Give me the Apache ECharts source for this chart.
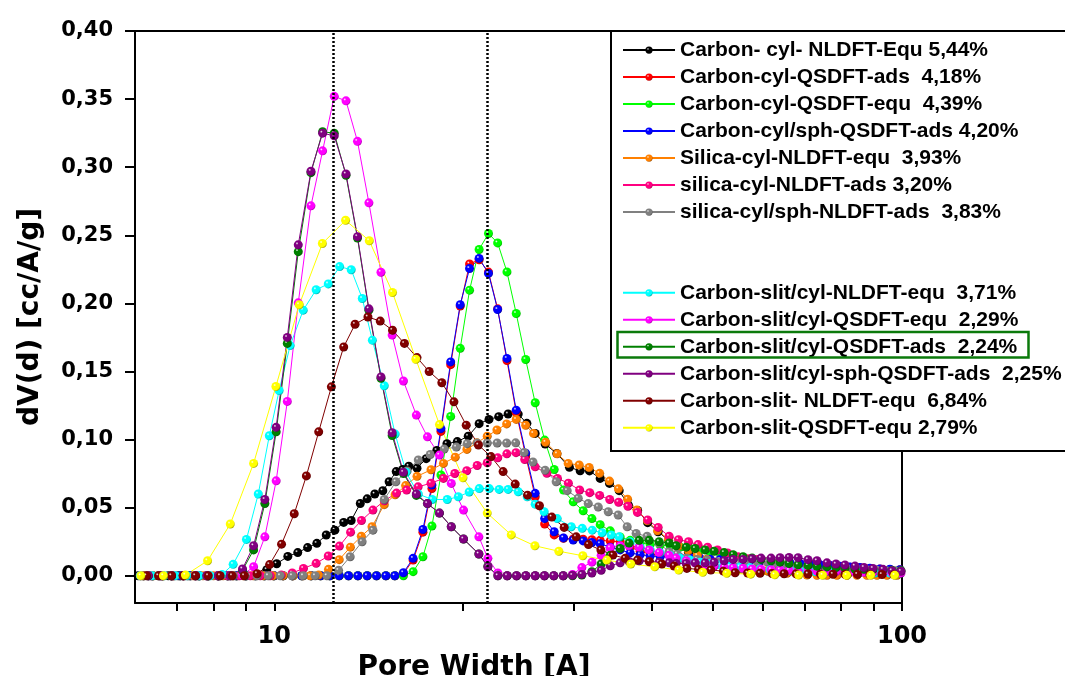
<!DOCTYPE html>
<html>
<head>
<meta charset="utf-8">
<script src="https://cdn.jsdelivr.net/npm/echarts@6/dist/echarts.min.js"></script>
<style>
  html, body { margin: 0; padding: 0; background: #ffffff; }
  #chart { width: 1065px; height: 676px; }
</style>
</head>
<body>
<div id="chart"></div>
<script>
// ---- Pore size distributions: pore width (Å) vs dV(d) (cc/Å/g) ----

// Shared pore-width grid of the carbon cylindrical QSDFT kernels
const cylQsdftWidths = [6.19, 6.40, 6.63, 6.86, 7.08, 7.35, 7.60, 7.85, 8.14, 8.42, 8.70, 9.01, 9.33, 9.65, 9.99, 10.33, 10.69, 11.06, 11.45, 11.85, 12.26, 12.69, 13.13, 13.59, 14.06, 14.55, 15.06, 15.56,
  16.06, 16.64, 17.25, 17.83, 18.43, 19.10, 19.78, 20.47, 21.20, 21.94, 22.69, 23.48, 24.29, 25.15, 26.04, 26.96, 27.92, 28.89, 29.94, 31.05, 32.06, 33.05,
  34.29, 35.56, 36.89, 38.27, 39.70, 41.18, 42.72, 44.32, 45.97, 47.69, 49.47, 51.31, 53.23, 55.21, 57.28, 59.41, 61.63, 63.93, 66.32, 68.79, 71.36, 74.02, 76.79, 79.65, 82.63, 85.71, 88.91, 92.23, 95.67, 99.25];

const carbonCylSphQsdftAds = [0, 0, 0, 0, 0, 0, 0, 0, 0, 0, 0, 0, 0, 0, 0, 0, 0, 0, 0, 0, 0, 0, 0, 0, 0, 0, 0, 0,
  0.0022, 0.0128, 0.034, 0.0666, 0.108, 0.157, 0.199, 0.2256, 0.233, 0.222, 0.1955, 0.1596, 0.1216, 0.09, 0.0605, 0.042, 0.0323, 0.0278, 0.0263, 0.0256, 0.0244, 0.0235,
  0.021, 0.019, 0.0168, 0.0155, 0.0145, 0.014, 0.0135, 0.013, 0.013, 0.0125, 0.0122, 0.012, 0.0117, 0.0115, 0.0112, 0.011, 0.0105, 0.01, 0.0095, 0.009, 0.0085, 0.008, 0.0075, 0.007, 0.0065, 0.006, 0.0055, 0.005, 0.0048, 0.0045];

const carbonCylQsdftAds = [0, 0, 0, 0, 0, 0, 0, 0, 0, 0, 0, 0, 0, 0, 0, 0, 0, 0, 0, 0, 0, 0, 0, 0, 0, 0, 0, 0,
  0.0015, 0.0115, 0.032, 0.064, 0.106, 0.155, 0.198, 0.229, 0.232, 0.223, 0.196, 0.158, 0.12, 0.088, 0.058, 0.038, 0.03, 0.0275, 0.027, 0.0268, 0.0265, 0.026,
  0.0255, 0.025, 0.021, 0.018, 0.016, 0.0148, 0.014, 0.0135, 0.013, 0.0125, 0.012, 0.0117, 0.0115, 0.0112, 0.011, 0.0107, 0.0103, 0.0098, 0.0093, 0.0088, 0.0083, 0.0078, 0.0073, 0.0068, 0.0063, 0.0058, 0.0053, 0.0049, 0.0046, 0.0044];

const carbonCylQsdftEqu = [0, 0, 0, 0, 0, 0, 0, 0, 0, 0, 0, 0, 0, 0, 0, 0, 0, 0, 0, 0, 0, 0, 0, 0, 0, 0, 0, 0,
  0, 0.003, 0.014, 0.0365, 0.074, 0.117, 0.167, 0.2097, 0.2396, 0.2513, 0.2444, 0.2231, 0.1926, 0.1588, 0.127, 0.0996, 0.078, 0.0629, 0.0543, 0.0477, 0.042, 0.0375,
  0.033, 0.0285, 0.026, 0.0243, 0.023, 0.0225, 0.022, 0.021, 0.02, 0.019, 0.018, 0.0165, 0.015, 0.0135, 0.0122, 0.011, 0.0095, 0.0085, 0.0075, 0.007, 0.0065, 0.006, 0.0055, 0.005, 0.005, 0.0045, 0.0045, 0.004, 0.004, 0.0035];

// Shared pore-width grid of the carbon slit/cylinder QSDFT kernels
const slitCylQsdftWidths = [6.30, 6.58, 6.86, 7.16, 7.49, 7.81, 8.15, 8.51, 8.90, 9.27, 9.66, 10.07, 10.49, 10.92, 11.44, 11.94, 12.46, 13.01, 13.57, 14.15,
  14.79, 15.41, 16.06, 16.84, 17.54, 18.33, 19.14, 20.02, 21.18, 21.89, 22.71, 23.50, 24.32, 25.16, 26.04, 26.94, 27.88, 28.86, 29.86, 30.90,
  32.06, 33.17, 34.29, 35.56, 36.75, 38.13, 39.56, 41.03, 42.56, 43.67, 45.31, 46.82, 48.57, 50.20, 52.07, 53.82, 55.82, 57.70, 59.63, 61.86,
  63.93, 66.08, 68.30, 70.84, 73.21, 75.94, 78.50, 81.12, 84.16, 86.98, 89.90, 93.25, 96.38, 99.62];

const slitCylQsdftEqu = [0, 0, 0, 0, 0, 0, 0, 0, 0.0005, 0.0066, 0.0286, 0.0697, 0.128, 0.2004, 0.2716, 0.312, 0.352, 0.3487, 0.319, 0.2738,
  0.2229, 0.1767, 0.143, 0.118, 0.102, 0.0886, 0.0678, 0.0482, 0.0286, 0.0128, 0.002, 0, 0, 0, 0, 0, 0, 0, 0.001, 0.006,
  0.01, 0.015, 0.0205, 0.022, 0.022, 0.021, 0.019, 0.017, 0.015, 0.013, 0.011, 0.0095, 0.008, 0.0072, 0.0065, 0.006, 0.0055, 0.005, 0.0048, 0.0045,
  0.0043, 0.004, 0.0038, 0.0036, 0.0034, 0.0032, 0.003, 0.0029, 0.0027, 0.0025, 0.0024, 0.0022, 0.0021, 0.002];

const slitCylQsdftAds = [0, 0, 0, 0, 0, 0, 0, 0, 0.004, 0.019, 0.053, 0.1057, 0.1706, 0.238, 0.296, 0.326, 0.325, 0.294, 0.248, 0.195,
  0.145, 0.103, 0.075, 0.059, 0.053, 0.046, 0.036, 0.027, 0.016, 0.007, 0, 0, 0, 0, 0, 0, 0, 0, 0, 0.0005,
  0.003, 0.0086, 0.015, 0.02, 0.024, 0.026, 0.026, 0.025, 0.024, 0.022, 0.021, 0.02, 0.019, 0.018, 0.017, 0.0155, 0.014, 0.013, 0.012, 0.011,
  0.01, 0.009, 0.008, 0.0075, 0.007, 0.0065, 0.006, 0.0055, 0.005, 0.0048, 0.0045, 0.0042, 0.004, 0.0038];

const slitCylSphQsdftAds = [0, 0, 0, 0, 0, 0, 0, 0, 0.005, 0.022, 0.056, 0.109, 0.175, 0.243, 0.297, 0.325, 0.323, 0.295, 0.249, 0.196,
  0.146, 0.105, 0.076, 0.06, 0.053, 0.046, 0.036, 0.027, 0.016, 0.0066, 0, 0, 0, 0, 0, 0, 0, 0, 0.0003, 0.001,
  0.002, 0.004, 0.0073, 0.0095, 0.0105, 0.011, 0.0105, 0.01, 0.0095, 0.009, 0.009, 0.0095, 0.0095, 0.01, 0.011, 0.012, 0.012, 0.0125, 0.013, 0.013,
  0.0133, 0.0135, 0.0133, 0.0118, 0.011, 0.0095, 0.0086, 0.0079, 0.0071, 0.0061, 0.0054, 0.0047, 0.0037, 0.0033];

// Carbon cylindrical NLDFT (equilibrium)
const carbonCylNldftWidths = [6.07, 6.30, 6.54, 6.78, 7.03, 7.29, 7.57, 7.85, 8.14, 8.44, 8.73, 9.03, 9.36, 9.73, 10.09, 10.51, 10.90, 11.30, 11.69, 12.10,
  12.49, 12.90, 13.26, 13.71, 14.06, 14.46, 14.89, 15.24, 15.64, 16.02, 16.38, 16.88, 17.46, 18.15, 18.84, 19.57, 20.37, 21.20, 21.98, 22.78,
  23.58, 24.47, 25.26, 26.04, 27.01, 28.19, 29.53, 30.71, 31.78, 33.05, 34.20, 35.44, 36.66, 37.92, 39.34, 40.88, 42.49, 44.08, 45.69, 47.34,
  49.11, 50.93, 52.84, 54.80, 56.86, 58.97, 61.18, 63.46, 65.83, 68.30, 70.84, 73.48, 76.23, 79.07, 82.02, 85.08, 88.26, 91.55, 94.97, 98.52];
const carbonCylNldftEqu = [0, 0, 0, 0, 0, 0, 0, 0, 0, 0, 0, 0, 0.001, 0.0045, 0.0088, 0.0142, 0.017, 0.0207, 0.0238, 0.0299,
  0.0335, 0.0392, 0.0406, 0.0531, 0.0565, 0.06, 0.0624, 0.069, 0.0765, 0.078, 0.0805, 0.079, 0.086, 0.092, 0.097, 0.0985, 0.1025, 0.1117, 0.1148, 0.1168,
  0.1188, 0.1187, 0.1119, 0.1045, 0.0967, 0.0898, 0.0796, 0.0771, 0.077, 0.0715, 0.0678, 0.0625, 0.0519, 0.048, 0.039, 0.0323, 0.026, 0.0215, 0.0173, 0.0152,
  0.0125, 0.0097, 0.0072, 0.0054, 0.0045, 0.004, 0.0035, 0.003, 0.0027, 0.0025, 0.0022, 0.002, 0.0018, 0.0017, 0.0015, 0.0014, 0.0013, 0.0012, 0.0011, 0.001];

// Silica cylindrical NLDFT (equilibrium)
const silicaCylEquWidths = [6.19, 6.42, 6.65, 6.91, 7.16, 7.43, 7.70, 8.00, 8.29, 8.60, 8.93, 9.26, 9.61, 9.96, 10.33, 10.72, 11.12, 11.41,
  11.77, 12.20, 12.69, 13.22, 13.76, 14.31, 14.97, 15.58, 16.19, 16.88, 17.77, 18.60, 19.42, 20.27, 21.03, 21.84, 22.63, 23.45, 24.29, 25.15,
  25.88, 27.06, 28.23, 29.39, 30.60, 31.74, 32.99, 34.20, 35.34, 36.55, 37.82, 39.31, 40.80, 42.46, 44.05, 45.69, 47.22, 48.87, 50.69, 52.65,
  54.60, 56.65, 58.76, 60.95, 63.23, 65.59, 68.03, 70.58, 73.21, 75.94, 78.78, 81.72, 84.77, 87.93, 91.22, 94.62, 98.16];
const silicaCylNldftEqu = [0, 0, 0, 0, 0, 0, 0, 0, 0, 0, 0, 0, 0, 0, 0, 0, 0, 0,
  0.0005, 0.0047, 0.0118, 0.021, 0.029, 0.036, 0.0522, 0.0595, 0.0662, 0.073, 0.0778, 0.0825, 0.0871, 0.0928, 0.0976, 0.1025, 0.107, 0.1115, 0.1148, 0.1105,
  0.1045, 0.098, 0.0895, 0.0825, 0.0813, 0.0795, 0.0752, 0.0695, 0.0638, 0.0562, 0.0482, 0.0404, 0.033, 0.0268, 0.0218, 0.0185, 0.0148, 0.012, 0.0085, 0.0062,
  0.005, 0.0045, 0.0042, 0.0037, 0.0026, 0.0018, 0.0012, 0.0006, 0.0004, 0.0003, 0.0003, 0.0003, 0.0003, 0.0003, 0.0003, 0.0003, 0.0003];

// Silica cylindrical NLDFT (adsorption)
const silicaCylAdsWidths = [6.12, 6.37, 6.63, 6.91, 7.18, 7.49, 7.79, 8.12, 8.44, 8.80, 9.16, 9.50, 9.85,
  10.26, 10.68, 11.13, 11.66, 12.19, 12.70, 13.23, 13.77, 14.36, 14.97, 15.66, 16.25, 16.95, 17.77, 18.60, 19.39, 20.26, 21.05, 21.84, 22.70,
  23.47, 24.27, 25.06, 26.04, 27.18, 28.26, 29.41, 30.65, 31.81, 32.99, 34.23, 35.36, 36.59, 37.89, 39.34, 40.88, 42.56, 44.05, 45.69, 47.31,
  49.02, 50.84, 52.74, 54.80, 56.86, 58.83, 60.95, 63.23, 65.59, 68.03, 70.58, 73.21, 75.94, 78.78, 81.72, 84.77, 87.93, 91.22, 94.62, 98.16];
const silicaCylNldftAds = [0, 0, 0, 0, 0, 0, 0, 0, 0, 0, 0, 0, 0,
  0.0005, 0.002, 0.0054, 0.0091, 0.0145, 0.0218, 0.032, 0.0406, 0.0482, 0.055, 0.0607, 0.0629, 0.0653, 0.068, 0.0715, 0.0751, 0.0771, 0.081, 0.083, 0.0866,
  0.0895, 0.0904, 0.0854, 0.08, 0.0752, 0.0715, 0.068, 0.063, 0.061, 0.059, 0.056, 0.054, 0.051, 0.0465, 0.041, 0.0355, 0.029, 0.0265, 0.025, 0.0229,
  0.021, 0.0189, 0.0167, 0.014, 0.0125, 0.012, 0.0105, 0.009, 0.008, 0.007, 0.006, 0.005, 0.0045, 0.004, 0.0035, 0.003, 0.003, 0.0025, 0.0025, 0.002];

// Silica cylindrical/spherical NLDFT (adsorption)
const silicaCylSphWidths = [6.35, 6.63, 6.91, 7.21, 7.54, 7.86, 8.20, 8.61, 8.99, 9.39, 9.78, 10.22, 10.68, 11.12, 11.62, 12.13,
  12.66, 13.21, 13.80, 14.36, 14.97, 15.62, 16.28, 16.96, 17.72, 18.65, 19.50, 20.29, 21.05, 21.84, 22.65, 23.45, 24.24, 25.01, 25.83, 27.01,
  28.12, 29.28, 30.49, 31.63, 32.81, 34.04, 35.30, 36.49, 37.71, 39.26, 41.03, 42.56, 43.83, 45.47, 47.17, 48.93, 50.75, 52.65, 54.80, 56.65,
  58.76, 60.95, 63.23, 65.59, 68.03, 70.58, 73.21, 75.94, 78.50, 81.43, 84.46, 87.61, 90.89, 94.28, 97.44];
const silicaCylSphNldftAds = [0, 0, 0, 0, 0, 0, 0, 0, 0, 0, 0, 0, 0, 0, 0, 0,
  0.004, 0.014, 0.025, 0.0335, 0.056, 0.069, 0.077, 0.085, 0.089, 0.093, 0.0945, 0.097, 0.0975, 0.0975, 0.0975, 0.0975, 0.0976, 0.0905, 0.0835, 0.0775,
  0.069, 0.0625, 0.057, 0.053, 0.0505, 0.047, 0.0446, 0.036, 0.031, 0.029, 0.0238, 0.0176, 0.016, 0.0128, 0.012, 0.0115, 0.0103, 0.0095, 0.0091, 0.0092,
  0.0103, 0.0103, 0.009, 0.008, 0.0066, 0.006, 0.006, 0.0054, 0.0054, 0.0052, 0.0047, 0.0046, 0.0042, 0.0037, 0.0037];

// Carbon slit/cylinder NLDFT (equilibrium)
const slitCylNldftWidths = [6.12, 6.40, 6.68, 6.96, 7.26, 7.60, 7.91, 8.26, 8.60, 9.03, 9.43, 9.82, 10.18, 10.60, 11.12, 11.66, 12.19, 12.71, 13.26, 13.81,
  14.33, 14.97, 15.58, 16.22, 16.96, 17.85, 18.86, 19.64, 20.44, 21.21, 22.00, 22.82, 23.58, 24.47, 25.29, 26.04, 26.91, 28.23, 29.72, 30.94,
  32.10, 33.29, 34.42, 35.44, 36.89, 38.27, 39.70, 41.18, 42.72, 44.32, 45.97, 47.69, 49.47, 51.31, 53.23, 55.21, 57.28, 59.41, 61.63, 63.93,
  66.32, 68.79, 72.68, 76.79, 81.12, 85.71, 90.56, 95.67, 99.25];
const slitCylNldftEqu = [0, 0, 0, 0, 0, 0, 0, 0.001, 0.0084, 0.0267, 0.06, 0.1028, 0.136, 0.169, 0.195, 0.21, 0.2143, 0.227, 0.2247, 0.2036,
  0.173, 0.1395, 0.104, 0.076, 0.06, 0.056, 0.056, 0.058, 0.0615, 0.064, 0.064, 0.0634, 0.0634, 0.0617, 0.058, 0.0526, 0.047, 0.042, 0.036, 0.0348,
  0.0335, 0.0316, 0.0299, 0.0286, 0.025, 0.021, 0.019, 0.017, 0.015, 0.013, 0.0115, 0.01, 0.009, 0.008, 0.007, 0.0065, 0.006, 0.005, 0.0045, 0.004,
  0.004, 0.0035, 0.003, 0.003, 0.0025, 0.0025, 0.002, 0.002, 0.002];

// Carbon slit NLDFT (equilibrium)
const slitNldftWidths = [6.26, 6.54, 6.86, 7.16, 7.49, 7.85, 8.20, 8.57, 8.96,
  9.39, 9.83, 10.27, 10.76, 11.25, 11.77, 12.33, 12.90, 13.45, 14.10, 14.75, 15.43, 16.12, 16.88, 17.65, 18.49, 19.33, 20.22, 21.15, 22.14,
  23.15, 24.20, 25.32, 26.45, 27.68, 28.96, 30.27, 31.66, 33.14, 34.63, 36.22, 37.89, 39.60, 41.44, 43.35, 45.42, 47.40, 49.60, 51.94, 54.22,
  56.76, 59.41, 62.09, 64.88, 67.80, 70.84, 74.15, 77.64, 81.12, 84.93, 88.91, 92.91, 97.09];
const slitNldftEqu = [0, 0, 0, 0, 0, 0, 0, 0, 0,
  0.0015, 0.0082, 0.0232, 0.0455, 0.0733, 0.1057, 0.1387, 0.168, 0.1847, 0.19, 0.187, 0.1803, 0.1706, 0.1602, 0.15, 0.1417, 0.1277, 0.1106, 0.096, 0.0875,
  0.0765, 0.0673, 0.0592, 0.0514, 0.0431, 0.0355, 0.0286, 0.0229, 0.0189, 0.0152, 0.0128, 0.0115, 0.0103, 0.0086, 0.0071, 0.0054, 0.0047, 0.0042, 0.0034, 0.0022,
  0.002, 0.0018, 0.0016, 0.0015, 0.0014, 0.0013, 0.0012, 0.0011, 0.001, 0.001, 0.0009, 0.0009, 0.0008];

// Carbon slit QSDFT (equilibrium)
const slitQsdftWidths = [6.13, 6.66, 7.22, 7.83, 8.51, 9.27, 10.06, 10.96, 11.93, 12.99, 14.17, 15.43, 16.81, 18.33, 19.98, 21.84, 23.85,
  26.01, 28.40, 31.01, 33.87, 36.98, 40.38, 44.10, 48.15, 52.58, 57.42, 62.70, 68.47, 74.77, 81.66, 89.18, 97.37];
const slitQsdftEqu = [0, 0, 0.0005, 0.011, 0.038, 0.0825, 0.139, 0.199, 0.244, 0.261, 0.246, 0.208, 0.159, 0.111, 0.072, 0.046, 0.03,
  0.022, 0.018, 0.0147, 0.0115, 0.0086, 0.0066, 0.0042, 0.0025, 0.0018, 0.0012, 0.0007, 0.0005, 0.0004, 0.0003, 0.0003, 0.0003];

// Reference pore widths marked by dotted guide lines
const guideWidths = [12.42, 21.84];

// Axis ticks and labels
const yTickValues = [0, 0.05, 0.10, 0.15, 0.20, 0.25, 0.30, 0.35, 0.40];
const xTickValues = [7, 8, 9, 10, 20, 30, 40, 50, 60, 70, 80, 90, 100];
const xLabelValues = [10, 100];

// Series list in plotting order (later entries are drawn on top)
const seriesList = [
  { name: 'Carbon- cyl- NLDFT-Equ 5,44%',          color: '#000000', x: carbonCylNldftWidths, y: carbonCylNldftEqu },
  { name: 'Carbon-cyl-QSDFT-ads  4,18%',           color: '#ff0000', x: cylQsdftWidths,       y: carbonCylQsdftAds },
  { name: 'Carbon-cyl-QSDFT-equ  4,39%',           color: '#00ff00', x: cylQsdftWidths,       y: carbonCylQsdftEqu },
  { name: 'Carbon-cyl/sph-QSDFT-ads 4,20%',        color: '#0000ff', x: cylQsdftWidths,       y: carbonCylSphQsdftAds },
  { name: 'Silica-cyl-NLDFT-equ  3,93%',           color: '#ff8000', x: silicaCylEquWidths,   y: silicaCylNldftEqu },
  { name: 'silica-cyl-NLDFT-ads 3,20%',            color: '#ff0080', x: silicaCylAdsWidths,   y: silicaCylNldftAds },
  { name: 'silica-cyl/sph-NLDFT-ads  3,83%',       color: '#808080', x: silicaCylSphWidths,   y: silicaCylSphNldftAds },
  { name: 'Carbon-slit/cyl-NLDFT-equ  3,71%',      color: '#00ffff', x: slitCylNldftWidths,   y: slitCylNldftEqu },
  { name: 'Carbon-slit/cyl-QSDFT-equ  2,29%',      color: '#ff00ff', x: slitCylQsdftWidths,   y: slitCylQsdftEqu },
  { name: 'Carbon-slit/cyl-QSDFT-ads  2,24%',      color: '#008000', x: slitCylQsdftWidths,   y: slitCylQsdftAds },
  { name: 'Carbon-slit/cyl-sph-QSDFT-ads  2,25%',  color: '#800080', x: slitCylQsdftWidths,   y: slitCylSphQsdftAds },
  { name: 'Carbon-slit- NLDFT-equ  6,84%',         color: '#800000', x: slitNldftWidths,      y: slitNldftEqu },
  { name: 'Carbon-slit-QSDFT-equ 2,79%',           color: '#ffff00', x: slitQsdftWidths,      y: slitQsdftEqu }
];

// Shaded ball markers
function darken(hex, k) {
  const n = parseInt(hex.slice(1), 16);
  const r = Math.round(((n >> 16) & 255) * k);
  const g = Math.round(((n >> 8) & 255) * k);
  const b = Math.round((n & 255) * k);
  return 'rgb(' + r + ',' + g + ',' + b + ')';
}
function ball(hex) {
  return {
    type: 'radial', x: 0.36, y: 0.34, r: 0.72,
    colorStops: [
      { offset: 0, color: '#ffffff' },
      { offset: 0.22, color: hex },
      { offset: 0.75, color: hex },
      { offset: 1, color: darken(hex, 0.6) }
    ]
  };
}

const FONT_WIDE = 'DejaVu Sans';
const FONT_LEGEND = 'Liberation Sans, Arial, sans-serif';

const series = seriesList.map(function (s, idx) {
  const item = {
    type: 'line',
    name: s.name,
    data: s.x.map(function (w, i) { return [w, s.y[i]]; }),
    symbol: 'circle',
    symbolSize: 9,
    showSymbol: true,
    clip: false,
    lineStyle: { color: s.color, width: 1 },
    itemStyle: { color: ball(s.color) },
    emphasis: { disabled: true },
    z: 2
  };
  if (idx === 0) {
    item.markLine = {
      silent: true,
      symbol: ['none', 'none'],
      label: { show: false },
      lineStyle: { color: '#000000', type: [2, 2], width: 2.5 },
      data: guideWidths.map(function (w) { return { xAxis: w }; })
    };
  }
  return item;
});

const legendText = { fontSize: 21, fontWeight: 'bold', fontFamily: FONT_LEGEND, color: '#000000' };
const names = seriesList.map(function (s) { return s.name; });

const chart = echarts.init(document.getElementById('chart'), null, { renderer: 'canvas' });
chart.setOption({
  animation: false,
  backgroundColor: '#ffffff',
  grid: { left: 135, right: 163, top: 31, bottom: 73, containLabel: false, outerBoundsMode: 'none' },
  xAxis: [
    {
      type: 'log', logBase: 10, min: 6, max: 100, position: 'bottom',
      axisLine: { show: true, onZero: false, lineStyle: { color: '#000000', width: 2 } },
      axisTick: { show: true, inside: false, length: 8, customValues: xTickValues, lineStyle: { color: '#000000', width: 2 } },
      axisLabel: {
        customValues: xLabelValues, margin: 22,
        formatter: function (v) { return String(Math.round(v)); },
        color: '#000000', fontSize: 24, fontWeight: 'bold', fontFamily: FONT_WIDE
      },
      minorTick: { show: false }, splitLine: { show: false },
      name: 'Pore Width [A]', nameLocation: 'middle', nameGap: 44,
      nameTextStyle: { color: '#000000', fontSize: 28, fontWeight: 'bold', fontFamily: FONT_WIDE, padding: [0, 89, 0, 0] }
    },
    {
      type: 'log', logBase: 10, min: 6, max: 100, position: 'top',
      axisLine: { show: true, onZero: false, lineStyle: { color: '#000000', width: 2 } },
      axisTick: { show: false }, axisLabel: { show: false }, splitLine: { show: false }
    }
  ],
  yAxis: [
    {
      type: 'value', min: -0.02, max: 0.40, position: 'left',
      axisLine: { show: true, onZero: false, lineStyle: { color: '#000000', width: 2 } },
      axisTick: { show: true, inside: false, length: 10, customValues: yTickValues, lineStyle: { color: '#000000', width: 2 } },
      axisLabel: {
        customValues: yTickValues, margin: 22,
        formatter: function (v) { return v.toFixed(2).replace('.', ','); },
        color: '#000000', fontSize: 21, fontWeight: 'bold', fontFamily: FONT_WIDE
      },
      splitLine: { show: false },
      name: 'dV(d) [cc/A/g]', nameLocation: 'middle', nameGap: 90, nameRotate: 90,
      nameTextStyle: { color: '#000000', fontSize: 28, fontWeight: 'bold', fontFamily: FONT_WIDE }
    },
    {
      type: 'value', min: -0.02, max: 0.40, position: 'right',
      axisLine: { show: true, onZero: false, lineStyle: { color: '#000000', width: 2 } },
      axisTick: { show: false }, axisLabel: { show: false }, splitLine: { show: false }
    }
  ],
  legend: [
    {
      data: names.slice(0, 7), orient: 'vertical', left: 617, top: 34.6, padding: 5,
      itemWidth: 52, itemHeight: 9, itemGap: 6.0, selectedMode: false,
      textStyle: legendText, z: 20
    },
    {
      data: names.slice(7), orient: 'vertical', left: 617, top: 277.3, padding: 5,
      itemWidth: 52, itemHeight: 9, itemGap: 6.0, selectedMode: false,
      textStyle: legendText, z: 20
    }
  ],
  graphic: [
    { type: 'rect', z: 10, shape: { x: 611, y: 31, width: 470, height: 420 }, style: { fill: '#ffffff', stroke: '#000000', lineWidth: 2 } },
    { type: 'rect', z: 30, shape: { x: 617.5, y: 332, width: 411, height: 25.5 }, style: { fill: 'none', stroke: '#0b7a0b', lineWidth: 2.5 } }
  ],
  series: series
});
</script>
</body>
</html>
